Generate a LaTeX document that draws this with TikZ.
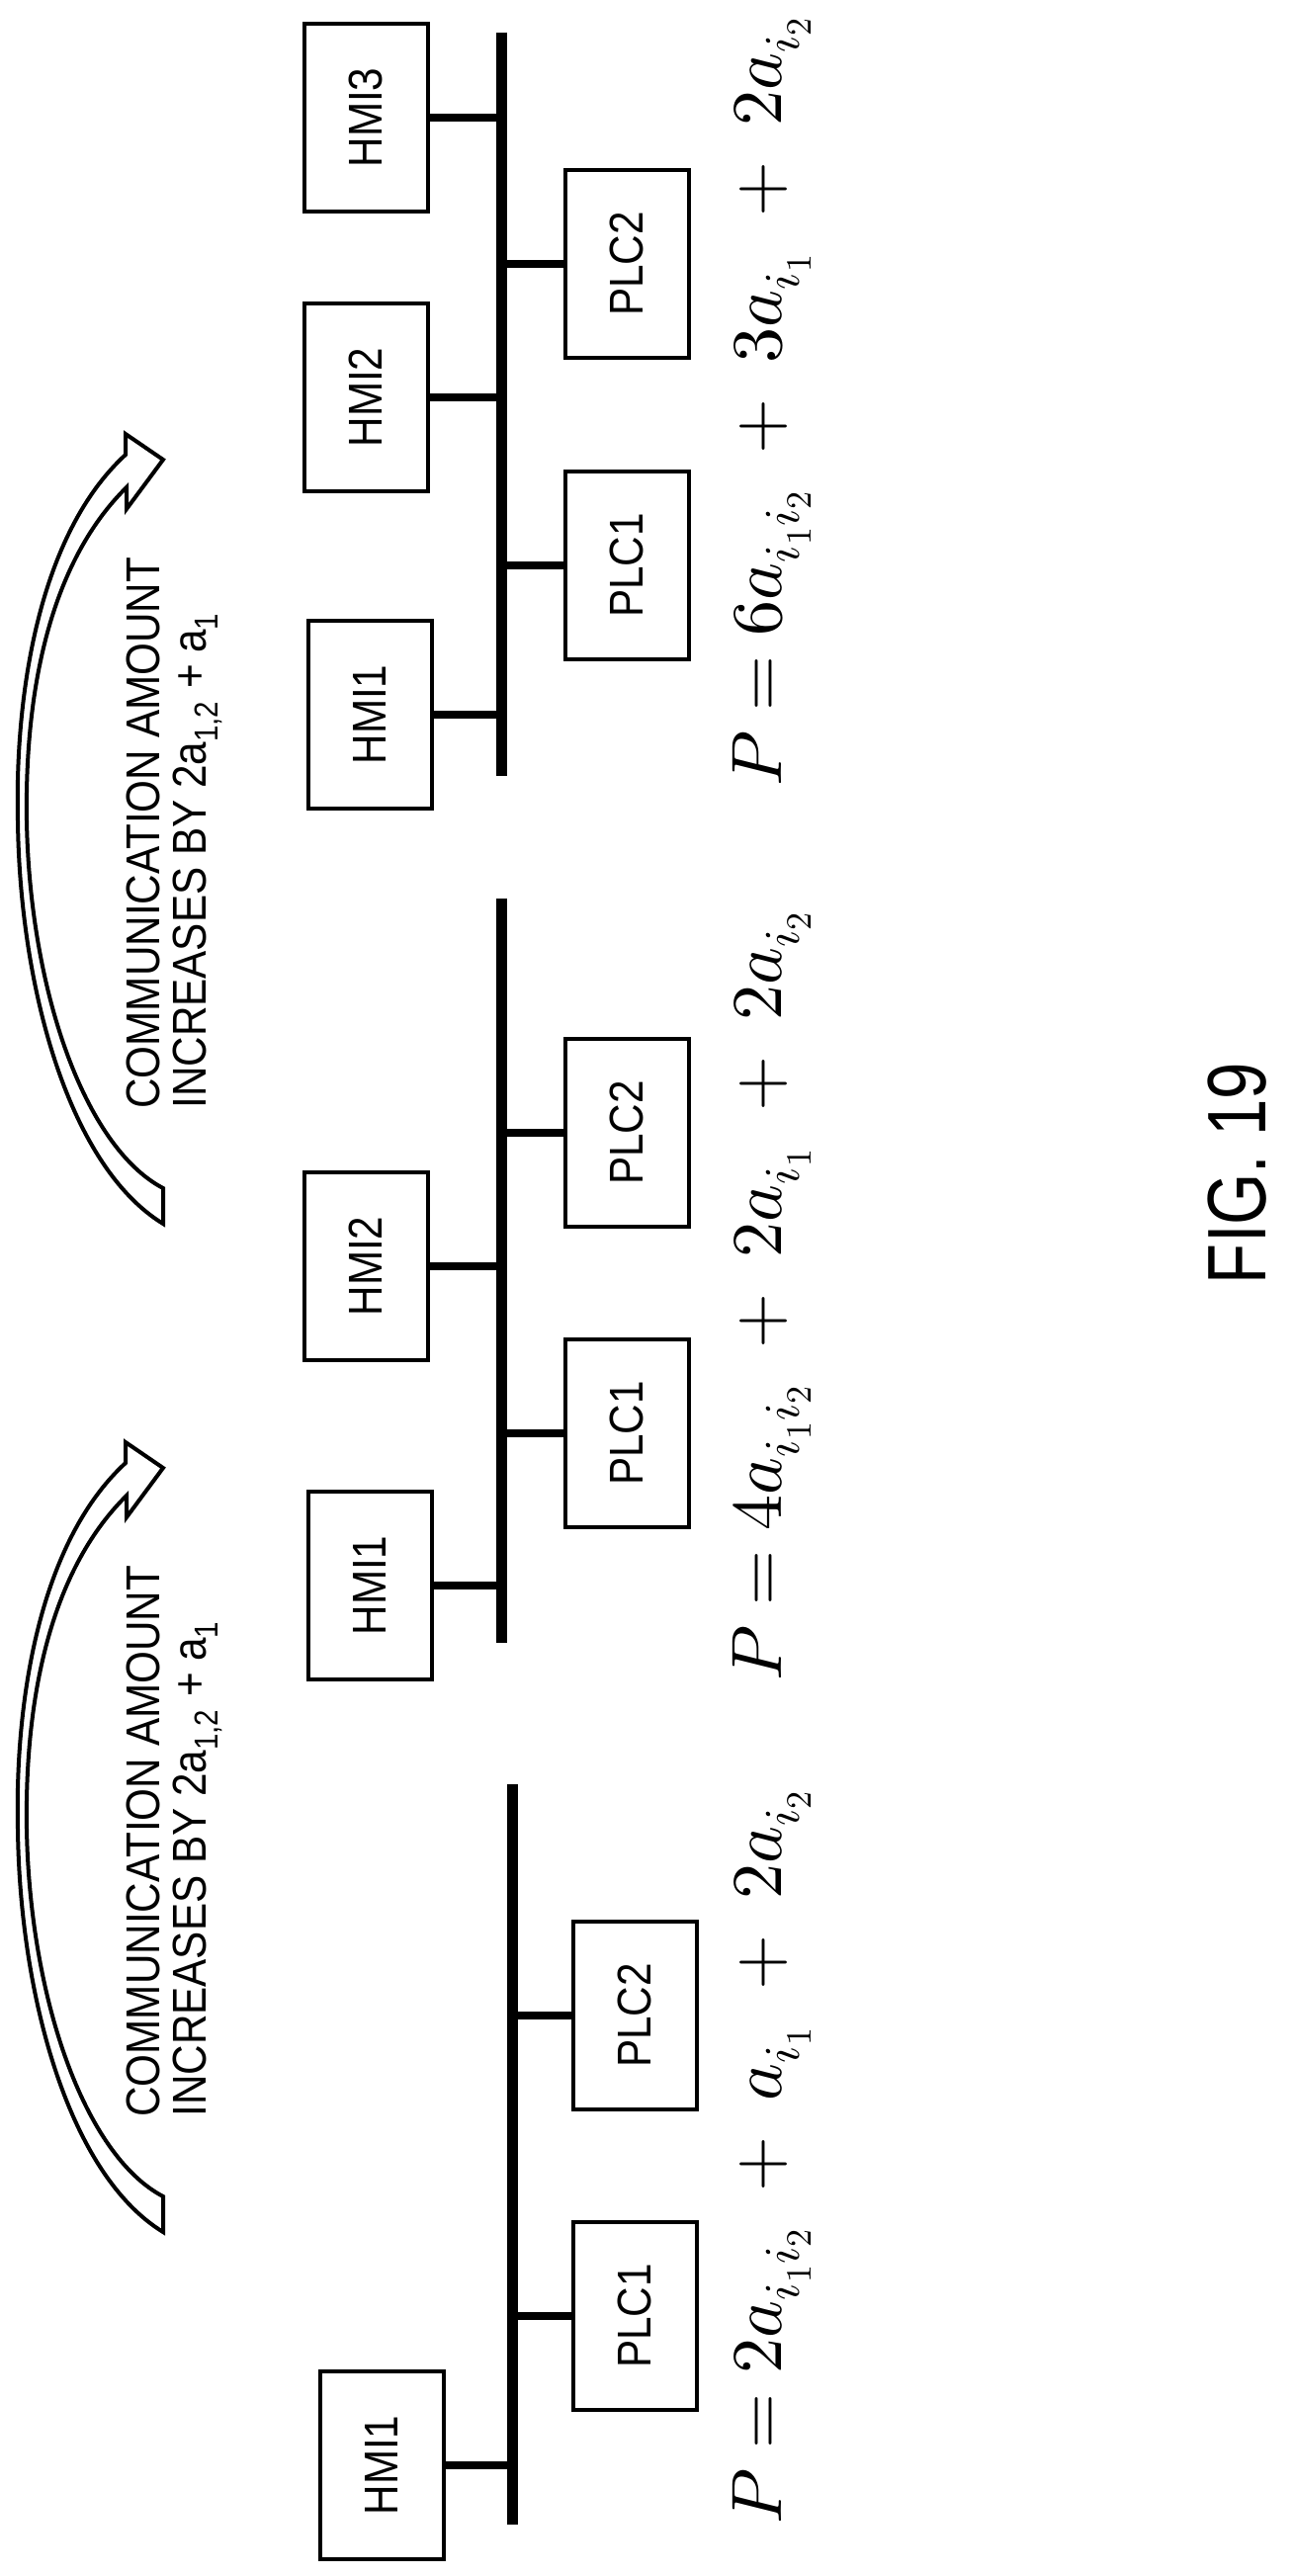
\documentclass[tikz,border=0pt]{standalone}
\usepackage{fontspec}
\setmainfont{Liberation Sans}
\usepackage{unicode-math}
\setmathfont{Latin Modern Math}
\begin{document}
\begin{tikzpicture}[x=0.5pt,y=-0.5pt,
  box/.style={draw,line width=2pt,minimum width=62.5pt,minimum height=95pt,inner sep=0pt,
    font=\fontsize{24}{24}\selectfont},
  bus/.style={line width=5.5pt},
  branch/.style={line width=4pt},
  formula/.style={rotate=90,font=\fontsize{36}{36}\selectfont},
  note/.style={rotate=90,anchor=west,inner sep=0pt,font=\fontsize{24}{24}\selectfont},
  curved/.style={draw,line width=2pt,fill=white,line join=miter}]
\useasboundingbox (0,0) rectangle (1306,2606);
\newcommand{\lbl}[1]{\rotatebox{90}{\scalebox{0.88}[1]{#1}}}
% ---------- group 3 (top)
\coordinate (b3t) at (507,33); \coordinate (b3b) at (507,785);
\draw[bus] (b3t) -- (b3b);
\node[box] (g3h3) at (370,119) {\lbl{HMI3}};
\node[box] (g3h2) at (370,402) {\lbl{HMI2}};
\node[box] (g3h1) at (374,723) {\lbl{HMI1}};
\node[box] (g3p2) at (634,267) {\lbl{PLC2}};
\node[box] (g3p1) at (634,572) {\lbl{PLC1}};
\foreach \n in {g3h3,g3h2,g3h1}{\draw[branch] (\n.east) -- (\n.east -| b3t);}
\foreach \n in {g3p2,g3p1}{\draw[branch] (\n.west) -- (\n.west -| b3t);}
\node[formula] (f3) at (781,406) {$P = 6a_{i_1 i_2}\;+\;3a_{i_1}\;+\;2a_{i_2}$};
% ---------- group 2
\coordinate (b2t) at (507,909); \coordinate (b2b) at (507,1662);
\draw[bus] (b2t) -- (b2b);
\node[box] (g2h2) at (370,1281) {\lbl{HMI2}};
\node[box] (g2h1) at (374,1604) {\lbl{HMI1}};
\node[box] (g2p2) at (634,1146) {\lbl{PLC2}};
\node[box] (g2p1) at (634,1450) {\lbl{PLC1}};
\foreach \n in {g2h2,g2h1}{\draw[branch] (\n.east) -- (\n.east -| b2t);}
\foreach \n in {g2p2,g2p1}{\draw[branch] (\n.west) -- (\n.west -| b2t);}
\node[formula] (f2) at (781,1311) {$P = 4a_{i_1 i_2}\;+\;2a_{i_1}\;+\;2a_{i_2}$};
% ---------- group 1 (bottom)
\coordinate (b1t) at (518,1805); \coordinate (b1b) at (518,2554);
\draw[bus] (b1t) -- (b1b);
\node[box] (g1h1) at (386,2494) {\lbl{HMI1}};
\node[box] (g1p2) at (642,2039) {\lbl{PLC2}};
\node[box] (g1p1) at (642,2343) {\lbl{PLC1}};
\draw[branch] (g1h1.east) -- (g1h1.east -| b1t);
\foreach \n in {g1p2,g1p1}{\draw[branch] (\n.west) -- (\n.west -| b1t);}
\node[formula] (f1) at (781,2182) {$P = 2a_{i_1 i_2}\;+\;a_{i_1}\;+\;2a_{i_2}$};
% ---------- curved arrows
\foreach \d/\nm in {0/a,1020/b}{
  \begin{scope}[yshift=-\d*0.5pt]
  \draw[curved] (165,465) -- (127,439) -- (127,460)
     .. controls (40,540) and (15,700) .. (18,830)
     .. controls (20,1000) and (70,1180) .. (165,1238)
     -- (165,1202)
     .. controls (85,1160) and (30,1000) .. (27,830)
     .. controls (25,700) and (50,570) .. (128,493)
     -- (128,515) -- cycle;
  \node[note] (\nm1) at (145,1122) {\scalebox{0.88}[1]{COMMUNICATION AMOUNT}};
  \node[note] (\nm2) at (200,1122) {\scalebox{0.88}[1]{INCREASES BY 2a\textsubscript{1,2} + a\textsubscript{1}}};
  \end{scope}}
% ---------- caption
\node[rotate=90,font=\fontsize{42}{42}\selectfont] (fig) at (1252,1187) {\scalebox{0.8}[1]{FIG. 19}};
\end{tikzpicture}
\end{document}
